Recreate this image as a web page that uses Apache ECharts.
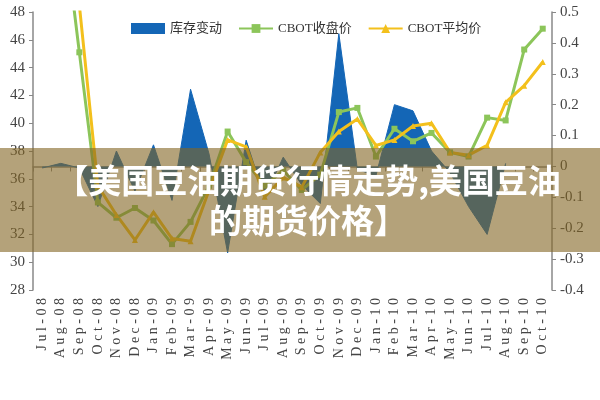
<!DOCTYPE html>
<html>
<head>
<meta charset="utf-8">
<script src="https://cdn.jsdelivr.net/npm/echarts@6/dist/echarts.min.js"></script>
<style>
html, body { margin: 0; padding: 0; background: #fff; }
#chart { width: 600px; height: 400px; }
</style>
</head>
<body>
<div id="chart"></div>
<script>
// months on the x axis
const months = ['Jul-08', 'Aug-08', 'Sep-08', 'Oct-08', 'Nov-08', 'Dec-08', 'Jan-09', 'Feb-09',
  'Mar-09', 'Apr-09', 'May-09', 'Jun-09', 'Jul-09', 'Aug-09', 'Sep-09', 'Oct-09', 'Nov-09',
  'Dec-09', 'Jan-10', 'Feb-10', 'Mar-10', 'Apr-10', 'May-10', 'Jun-10', 'Jul-10', 'Aug-10',
  'Sep-10', 'Oct-10']
// 库存变动 (right axis)
const stockChange = [-0.005, 0.01, -0.005, -0.13, 0.05, -0.08, 0.07, -0.11, 0.25, 0.04, -0.28, 0.085,
  -0.1, 0.03, -0.06, -0.12, 0.43, -0.01, -0.03, 0.2, 0.18, 0.05, -0.02, -0.13, -0.22, 0.01, null, null]
// CBOT收盘价 (left axis)
const closePrice = [62, 56, 45.1, 34.3, 33.2, 33.9, 33.0, 31.3, 32.9, 35.5, 39.4, 37.2, 35.5, 36.6,
  35.2, 36.3, 40.8, 41.1, 37.6, 39.6, 38.7, 39.3, 37.9, 37.6, 40.4, 40.2, 45.3, 46.8]
// CBOT平均价 (left axis)
const avgPrice = [64, 57, 48.5, 35.5, 33.4, 31.6, 33.6, 31.7, 31.5, 35.2, 38.8, 38.3, 34.7, 36.1,
  35.4, 37.9, 39.4, 40.3, 38.4, 38.8, 39.8, 40.0, 37.9, 37.7, 38.4, 41.5, 42.7, 44.4]
const bannerText = '【美国豆油期货行情走势,美国豆油\n的期货价格】'

const serif = '"Liberation Serif", "DejaVu Serif", serif'
const myChart = echarts.init(document.getElementById('chart'))

const option = {
  animation: false,
  legend: {
    top: 17,
    left: 126,
    itemGap: 16,
    itemWidth: 34,
    itemHeight: 11,
    textStyle: { fontFamily: serif + ', "Noto Sans CJK SC"', fontSize: 13, color: '#333' },
    data: [
      { name: '库存变动', icon: 'rect' },
      { name: 'CBOT收盘价' },
      { name: 'CBOT平均价' }
    ]
  },
  grid: { left: 33, right: 48, top: 12, bottom: 110 },
  xAxis: {
    type: 'category',
    data: months,
    boundaryGap: true,
    axisLine: { lineStyle: { color: '#888', width: 1.5 } },
    axisTick: { show: true, inside: false, length: 5, lineStyle: { color: '#888' } },
    axisLabel: {
      rotate: 90,
      interval: 0,
      margin: 8,
      fontFamily: serif,
      fontSize: 14,
      color: '#444',
      formatter: function (v) { return v.split('').join(' ') }
    }
  },
  yAxis: [
    {
      type: 'value',
      min: 28,
      max: 48,
      interval: 2,
      splitLine: { show: false },
      axisLine: { show: true, lineStyle: { color: '#888', width: 1.5 } },
      axisTick: { show: true, length: 4, lineStyle: { color: '#888' } },
      axisLabel: { fontFamily: serif, fontSize: 15, color: '#444', margin: 8 }
    },
    {
      type: 'value',
      min: -0.4,
      max: 0.5,
      interval: 0.1,
      position: 'right',
      splitLine: { show: false },
      axisLine: { show: true, lineStyle: { color: '#888', width: 1.5 } },
      axisTick: { show: true, length: 4, lineStyle: { color: '#888' } },
      axisLabel: {
        fontFamily: serif,
        fontSize: 15,
        color: '#444',
        margin: 8,
        formatter: function (v) { return Math.abs(v) < 1e-9 ? '0' : v.toFixed(1) }
      }
    }
  ],
  series: [
    {
      name: '库存变动',
      type: 'line',
      yAxisIndex: 1,
      data: stockChange,
      symbol: 'none',
      itemStyle: { color: '#1466b6' },
      lineStyle: { color: '#1466b6', width: 1 },
      areaStyle: { color: '#1466b6', opacity: 1 }
    },
    {
      name: 'CBOT收盘价',
      type: 'line',
      yAxisIndex: 0,
      data: closePrice,
      symbol: 'rect',
      symbolSize: 6,
      itemStyle: { color: '#8cc55a' },
      lineStyle: { color: '#8cc55a', width: 3 }
    },
    {
      name: 'CBOT平均价',
      type: 'line',
      yAxisIndex: 0,
      data: avgPrice,
      symbol: 'triangle',
      symbolSize: 6,
      itemStyle: { color: '#f3c01c' },
      lineStyle: { color: '#f3c01c', width: 3 }
    }
  ],
  graphic: [
    {
      type: 'rect',
      z: 100,
      shape: { x: 0, y: 148, width: 600, height: 104 },
      style: { fill: 'rgba(130,100,33,0.6)' }
    },
    {
      type: 'text',
      z: 101,
      x: 308,
      y: 200,
      style: {
        text: bannerText,
        fill: '#fff',
        font: 'bold 33px "Noto Sans CJK SC"',
        lineHeight: 40,
        align: 'center',
        verticalAlign: 'middle'
      }
    }
  ]
}

myChart.setOption(option)
</script>
</body>
</html>
